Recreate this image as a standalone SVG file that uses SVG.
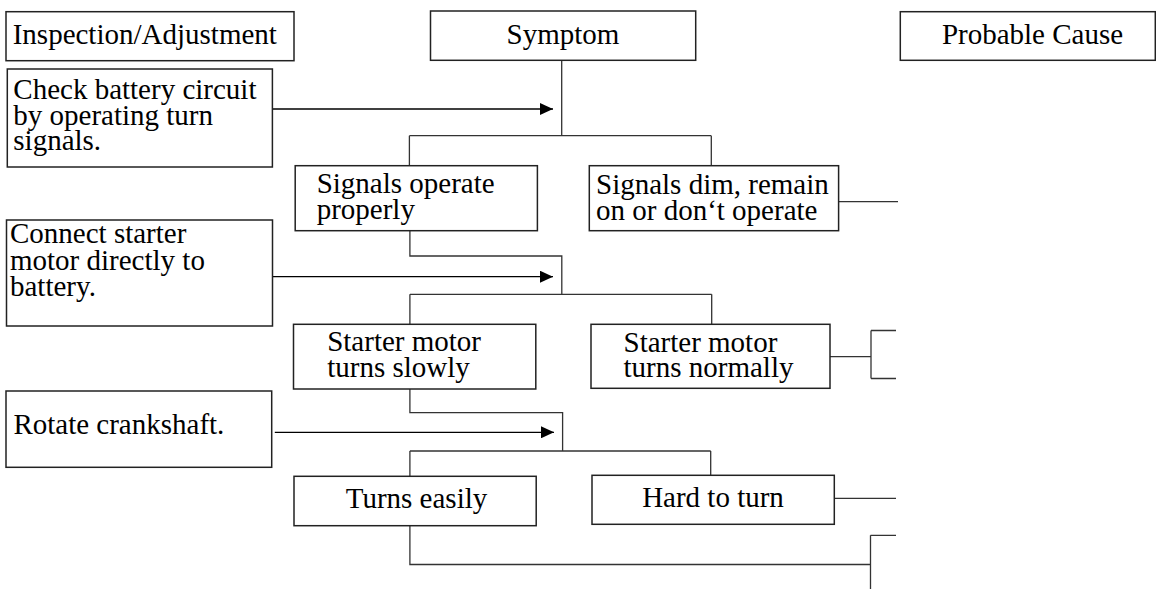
<svg xmlns="http://www.w3.org/2000/svg" width="1156" height="589" viewBox="0 0 1156 589">
<defs>
<style>
.box{fill:#fff;stroke:#222;stroke-width:1.5}
.t{font-family:'Liberation Serif','Times New Roman',Tinos,'DejaVu Serif',serif;font-size:29px;fill:#000}
.c{text-anchor:middle}
.ln{fill:none;stroke:#333;stroke-width:1.3}
.ar{fill:none;stroke:#000;stroke-width:1.3;marker-end:url(#ah)}
</style>
<marker id="ah" markerWidth="13" markerHeight="12" refX="13" refY="6" orient="auto" markerUnits="userSpaceOnUse">
<path d="M0,0 L13,6 L0,12 Z" fill="#000"/>
</marker>
</defs>
<rect width="1156" height="589" fill="#fff"/>
<g id="connectors">
<path class="ln" d="M561.7,60.5 V135.7 M409.4,135.7 H711.3 M409.4,135.7 V166 M711.3,135.7 V166"/>
<path class="ln" d="M409.9,231 V256 H561.8 V294.3 M409.9,294.3 H711.7 M409.9,294.3 V324.3 M711.7,294.3 V324.3"/>
<path class="ln" d="M838.6,201.7 H898"/>
<path class="ln" d="M409.9,389 V412.7 H562.6 V451 M409.9,451 H710.7 M409.9,451 V476 M710.7,451 V475.3"/>
<path class="ln" d="M830,356.7 H871 M871,330.5 V378.5 M871,330.5 H896 M871,378.5 H896"/>
<path class="ln" d="M834.3,498.3 H896"/>
<path class="ln" d="M409.9,526 V564.5 H870.5 M870.5,535.3 V589 M870.5,535.3 H896"/>
<path class="ar" d="M272.4,109 H553"/>
<path class="ar" d="M272.5,276.7 H553"/>
<path class="ar" d="M274.8,432.3 H554"/>
</g>
<g id="hdr-inspection"><rect class="box" x="6" y="11.7" width="288" height="49"/><text class="t" font-family="Liberation Serif, serif" x="12.7" y="43.5">Inspection/Adjustment</text></g>
<g id="hdr-symptom"><rect class="box" x="430.5" y="11" width="265.2" height="49.3"/><text class="t c" font-family="Liberation Serif, serif" x="563" y="43.5">Symptom</text></g>
<g id="hdr-cause"><rect class="box" x="900.3" y="11.7" width="255" height="48.6"/><text class="t c" font-family="Liberation Serif, serif" x="1032.5" y="43.5">Probable Cause</text></g>
<g id="insp-battery"><rect class="box" x="7.3" y="69" width="265.1" height="98"/><text class="t" x="13.3" y="99">Check battery circuit</text><text class="t" x="13.3" y="124.5">by operating turn</text><text class="t" x="13.3" y="150">signals.</text></g>
<g id="sym-operate"><rect class="box" x="295.2" y="165.7" width="242.2" height="65"/><text class="t" x="316.7" y="193">Signals operate</text><text class="t" x="316.7" y="218.5">properly</text></g>
<g id="sym-dim"><rect class="box" x="589.3" y="165.7" width="249.3" height="65"/><text class="t" x="596" y="193.5">Signals dim, remain</text><text class="t" x="596" y="219.5">on or don‘t operate</text></g>
<g id="insp-starter"><rect class="box" x="6.5" y="220" width="266" height="106"/><text class="t" x="10" y="243.3">Connect starter</text><text class="t" x="10" y="270">motor directly to</text><text class="t" x="10" y="296">battery.</text></g>
<g id="sym-slowly"><rect class="box" x="293.5" y="324.3" width="242.3" height="64.7"/><text class="t" x="327.2" y="351">Starter motor</text><text class="t" x="327.2" y="376.5">turns slowly</text></g>
<g id="sym-normally"><rect class="box" x="591" y="324.3" width="239" height="64"/><text class="t" x="623.5" y="351.5">Starter motor</text><text class="t" x="623.5" y="376.7">turns normally</text></g>
<g id="insp-crank"><rect class="box" x="6" y="391" width="265.7" height="76.3"/><text class="t" x="13.4" y="434">Rotate crankshaft.</text></g>
<g id="sym-easily"><rect class="box" x="294" y="476.3" width="242.2" height="49.4"/><text class="t c" x="416.5" y="507.5">Turns easily</text></g>
<g id="sym-hard"><rect class="box" x="592" y="475.3" width="242.3" height="49"/><text class="t c" x="713" y="507">Hard to turn</text></g>
</svg>
